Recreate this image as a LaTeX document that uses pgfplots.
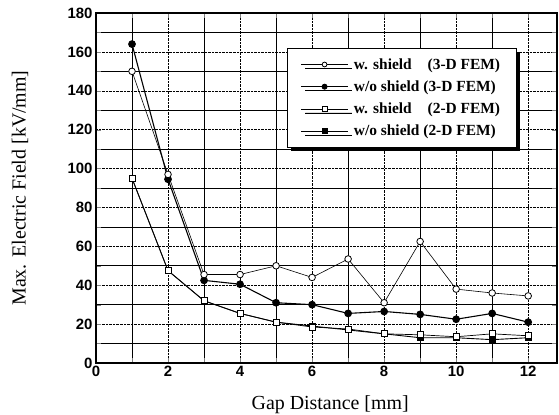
\documentclass[border=0pt]{standalone}
\usepackage{fontspec}
\setmainfont{Liberation Serif}
\newfontfamily\tickfont{Liberation Sans}
\usepackage{pgfplots}
\pgfplotsset{compat=1.18}
\usetikzlibrary{shadows}

\begin{document}
\begin{tikzpicture}
\begin{axis}[
    scale only axis,
    width=461bp, height=350bp,
    xmin=0, xmax=12.8,
    ymin=0, ymax=180,
    xtick={0,2,...,12},
    ytick={0,20,...,180},
    minor xtick={1,3,...,11},
    minor ytick={10,30,...,170},
    tick align=inside,
    major tick length=5bp,
    minor tick length=5bp,
    grid=both,
    major grid style={black, densely dotted, line width=0.5pt},
    minor grid style={black, line width=0.6pt},
    axis line style={line width=1.2pt},
    /pgf/number format/assume math mode=true,
    ticklabel style={font=\tickfont\bfseries\fontsize{15}{17}\selectfont},
    xlabel={Gap Distance [mm]},
    ylabel={Max. Electric Field [kV/mm]},
    every axis x label/.style={at={(axis description cs:0.508,-0.12)}, anchor=center,
        font=\fontsize{20}{22}\selectfont},
    every axis y label/.style={at={(axis description cs:-0.165,0.5)}, rotate=90, anchor=center,
        font=\fontsize{20}{22}\selectfont},
    reverse legend,
    legend cell align=left,
    legend style={
        at={(axis cs:5.3,162)}, anchor=north west,
        draw=black, fill=white, line width=0.8pt,
        font=\bfseries\fontsize{15.5}{18}\selectfont,
        inner xsep=13.5bp, inner ysep=8bp,
        row sep=6bp,
        nodes={inner xsep=2.5bp},
        /tikz/every odd column/.append style={column sep=3bp},
        drop shadow={shadow xshift=4bp, shadow yshift=-4bp, fill=black, opacity=1},
    },
    legend image code/.code={
        \draw[mark repeat=2, mark phase=2, #1, mark size=2.4bp]
            plot coordinates {(0cm,0cm) (0.82cm,0cm) (1.64cm,0cm)};
    },
]

% drawn first so the open squares lie on top of them
\addplot[black, line width=0.9pt, mark=square*, mark size=3bp,
    mark options={fill=black, solid}] coordinates {
    (1,95) (2,47.5) (3,32) (4,25.5) (5,21) (6,19)
    (7,17) (8,15) (9,13) (10,13) (11,12) (12,13)
};
\addlegendentry{w/o shield (2-D FEM)}

\addplot[black, line width=0.7pt, mark=square*, mark size=3bp,
    mark options={fill=white, solid}] coordinates {
    (1,95) (2,47.5) (3,32) (4,25.5) (5,21) (6,18.5)
    (7,17.5) (8,15) (9,14.5) (10,13.5) (11,15) (12,14)
};
\addlegendentry{w. shield\hphantom{/o} (2-D FEM)}

\addplot[black, line width=1.1pt, mark=*, mark size=3.3bp,
    mark options={fill=black, solid}] coordinates {
    (1,164) (2,94.5) (3,42.5) (4,40.5) (5,31) (6,30)
    (7,25.5) (8,26.5) (9,25) (10,22.5) (11,25.5) (12,21)
};
\addlegendentry{w/o shield (3-D FEM)}

\addplot[black, line width=0.6pt, mark=*, mark size=3.3bp,
    mark options={fill=white, solid, line width=0.8pt}] coordinates {
    (1,150) (2,97) (3,45.5) (4,45.5) (5,50) (6,44)
    (7,53.5) (8,31) (9,62.5) (10,38) (11,36) (12,34.5)
};
\addlegendentry{w. shield\hphantom{/o} (3-D FEM)}

\end{axis}
\pgfresetboundingbox
\useasboundingbox ([shift={(-96bp,-52bp)}]current axis.south west)
    rectangle ([shift={(2bp,13bp)}]current axis.north east);
\end{tikzpicture}
\end{document}
